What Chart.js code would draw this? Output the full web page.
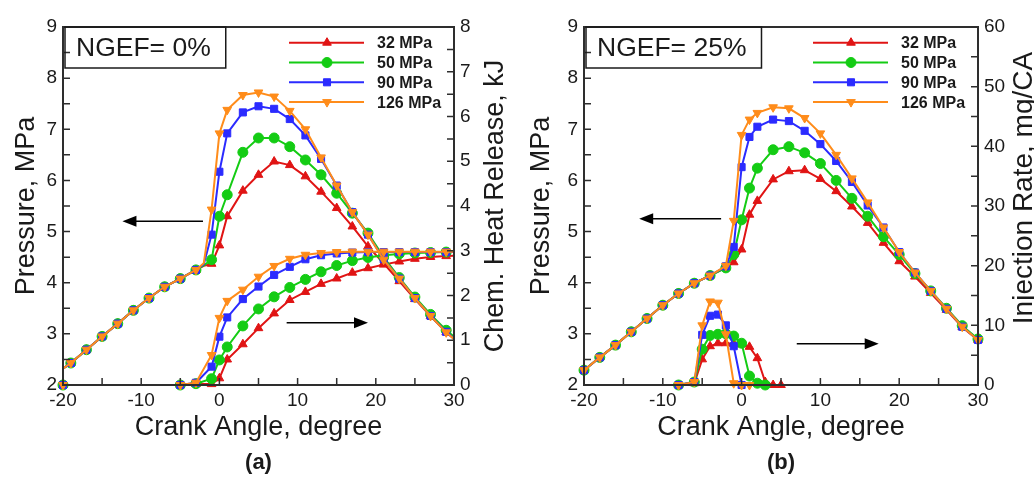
<!DOCTYPE html>
<html><head><meta charset="utf-8">
<script src="https://cdn.jsdelivr.net/npm/chart.js@4.4.1/dist/chart.umd.min.js"></script>
<style>
html,body{margin:0;padding:0;background:#fff;}
#wrap{position:relative;width:1034px;height:477px;overflow:hidden;background:#fff;}
canvas{position:absolute;top:0;}
#ca{left:0;} #cb{left:517px;}
</style></head><body>
<div id="wrap"><canvas id="ca" width="517" height="477" style="width:517px;height:477px"></canvas><canvas id="cb" width="517" height="477" style="width:517px;height:477px"></canvas></div>
<script>
// ---------------- DATA ----------------
const seriesLabels = ['32 MPa', '50 MPa', '90 MPa', '126 MPa'];

// Panel (a): NGEF = 0%  -- cylinder pressure (MPa)
const caPressA = [-20,-19,-17,-15,-13,-11,-9,-7,-5,-3,-2,-1,0,1,3,5,7,9,11,13,15,17,19,21,23,25,27,29,30];
const p32A  = [2.32,2.43,2.69,2.95,3.20,3.46,3.70,3.92,4.08,4.25,4.33,4.37,4.73,5.30,5.80,6.11,6.37,6.30,6.08,5.78,5.46,5.10,4.71,4.38,4.03,3.68,3.35,3.03,2.90];
const p50A  = [2.32,2.43,2.69,2.95,3.20,3.46,3.70,3.92,4.08,4.25,4.34,4.45,5.30,5.72,6.55,6.83,6.83,6.66,6.40,6.11,5.75,5.36,4.97,4.50,4.10,3.72,3.38,3.07,2.95];
const p90A  = [2.32,2.43,2.69,2.95,3.20,3.46,3.70,3.92,4.08,4.25,4.36,4.94,6.17,6.92,7.33,7.45,7.40,7.20,6.88,6.42,5.90,5.38,4.94,4.46,4.08,3.70,3.35,3.04,2.91];
const p126A = [2.32,2.43,2.69,2.95,3.20,3.46,3.70,3.92,4.08,4.25,4.38,5.43,6.92,7.38,7.67,7.72,7.64,7.36,7.00,6.45,5.90,5.38,4.94,4.45,4.08,3.70,3.35,3.03,2.90];

// Panel (a): chemical heat release (kJ)
const caHeatA = [-20,-5,-3,-1,0,1,3,5,7,9,11,13,15,17,19,21,23,25,27,29,30];
const hr32A  = [0,0,0.02,0.02,0.15,0.57,0.91,1.27,1.60,1.90,2.08,2.26,2.38,2.51,2.61,2.69,2.76,2.82,2.86,2.88,2.89];
const hr50A  = [0,0,0.03,0.14,0.56,0.85,1.32,1.70,1.97,2.18,2.36,2.53,2.67,2.78,2.85,2.90,2.93,2.95,2.96,2.97,2.97];
const hr90A  = [0,0,0.05,0.41,1.08,1.51,1.92,2.20,2.46,2.64,2.81,2.90,2.94,2.96,2.97,2.97,2.97,2.97,2.97,2.97,2.97];
const hr126A = [0,0,0.05,0.67,1.50,1.88,2.13,2.42,2.66,2.82,2.91,2.95,2.97,2.98,2.98,2.98,2.98,2.98,2.98,2.98,2.98];

// Panel (b): NGEF = 25% -- cylinder pressure (MPa)
const caPressB = [-20,-18,-16,-14,-12,-10,-8,-6,-4,-2,-1,0,1,2,4,6,8,10,12,14,16,18,20,22,24,26,28,30];
const p32B  = [2.29,2.54,2.78,3.04,3.30,3.56,3.79,3.99,4.14,4.30,4.40,4.65,5.33,5.60,6.02,6.18,6.20,6.03,5.79,5.49,5.17,4.78,4.42,4.12,3.80,3.47,3.13,2.88];
const p50B  = [2.29,2.54,2.78,3.04,3.30,3.56,3.79,3.99,4.14,4.29,4.55,5.23,5.85,6.24,6.60,6.66,6.54,6.33,6.00,5.65,5.30,4.90,4.55,4.18,3.84,3.50,3.16,2.90];
const p90B  = [2.29,2.54,2.78,3.04,3.30,3.56,3.79,3.99,4.14,4.32,4.70,6.26,6.85,7.05,7.19,7.16,6.97,6.71,6.38,5.97,5.51,5.08,4.60,4.20,3.84,3.49,3.14,2.88];
const p126B = [2.29,2.54,2.78,3.04,3.30,3.56,3.79,3.99,4.14,4.33,5.21,6.89,7.19,7.32,7.43,7.41,7.22,6.92,6.50,6.04,5.57,5.08,4.60,4.20,3.84,3.49,3.14,2.88];

// Panel (b): injection rate (mg/CA)
const caInjB = [-8,-6,-5,-4,-3,-2,-1,0,1,2,3,4,5];
const inj32B  = [0,0.3,4.3,6.5,7.0,7.0,6.9,6.8,6.4,4.5,0.5,0,0];
const inj50B  = [0,0.5,6.0,8.3,8.5,8.6,8.2,7.0,1.5,0.3,0,null,null];
const inj90B  = [0,0.5,8.4,11.6,11.8,10.0,6.5,0,null,null,null,null,null];
const inj126B = [0,0.5,10.0,14.0,13.8,8.5,0.3,0,0,null,null,null,null];

// Axis tick values
const xTickMarks = [-20,-15,-10,-5,0,5,10,15,20,25,30];
const pressTickMarks = [2,2.5,3,3.5,4,4.5,5,5.5,6,6.5,7,7.5,8,8.5,9];
const heatTickMarks = [0,0.5,1,1.5,2,2.5,3,3.5,4,4.5,5,5.5,6,6.5,7,7.5,8];
const injTickMarks = [0,5,10,15,20,25,30,35,40,45,50,55,60];

// ---------------- STYLE ----------------
const FONT = "'Liberation Sans', Arial, Helvetica, sans-serif";
const INK = '#1a1a1a';
const AXIS = '#2e2e2e';
const seriesStyle = [
  {color:'#e01414', pointStyle:'triangle', rotation:0,   radius:5,   order:3},
  {color:'#14cc14', pointStyle:'circle',   rotation:0,   radius:5,   order:2},
  {color:'#2b2bff', pointStyle:'rect',     rotation:0,   radius:5,   order:1},
  {color:'#ff8c1a', pointStyle:'triangle', rotation:180, radius:5,   order:0}
];

function pts(xs, ys) {
  return xs.map((x, i) => ({x: x, y: ys[i]})).filter(p => p.y !== null);
}
function makeDataset(label, xs, ys, s, axis, hideAt) {
  return {
    label: label, data: pts(xs, ys), yAxisID: axis,
    borderColor: s.color, backgroundColor: s.color, borderWidth: 2,
    pointStyle: s.pointStyle, pointRotation: s.rotation,
    pointRadius: ctx => (ctx.raw && hideAt.includes(ctx.raw.x)) ? 0 : s.radius,
    pointBackgroundColor: s.color, pointBorderColor: s.color, pointBorderWidth: 1,
    tension: 0, clip: false, order: s.order
  };
}

function drawMarker(ctx, s, x, y) {
  ctx.fillStyle = s.color; ctx.strokeStyle = s.color; ctx.lineWidth = 1;
  if (Chart.helpers && Chart.helpers.drawPoint) {
    Chart.helpers.drawPoint(ctx, {pointStyle: s.pointStyle, radius: s.radius, rotation: s.rotation, borderWidth: 1}, x, y);
  } else {
    ctx.beginPath(); ctx.arc(x, y, s.radius, 0, Math.PI * 2); ctx.fill();
  }
}

const panelDecor = {
  id: 'panelDecor',
  afterDatasetsDraw(chart, args, o) {
    const {ctx, chartArea: a, scales} = chart;
    ctx.save();
    ctx.strokeStyle = AXIS;
    ctx.lineWidth = 2;
    ctx.strokeRect(a.left, a.top, a.right - a.left, a.bottom - a.top);
    ctx.lineWidth = 1.5;
    ctx.beginPath();
    const L = 7;
    o.xMarks.forEach(v => { const p = scales.x.getPixelForValue(v); ctx.moveTo(p, a.bottom); ctx.lineTo(p, a.bottom - L); });
    o.yMarks.forEach(v => { const p = scales.y.getPixelForValue(v); ctx.moveTo(a.left, p); ctx.lineTo(a.left + L, p); });
    o.y2Marks.forEach(v => { const p = scales.y2.getPixelForValue(v); ctx.moveTo(a.right, p); ctx.lineTo(a.right - L, p); });
    ctx.stroke();
    ctx.restore();
  },
  afterDraw(chart, args, o) {
    const {ctx, chartArea: a, scales} = chart;
    ctx.save();
    // NGEF box
    ctx.font = '26.5px ' + FONT;
    const tw = ctx.measureText(o.boxText).width;
    ctx.strokeStyle = INK; ctx.lineWidth = 1.5;
    ctx.strokeRect(a.left + 2, a.top, tw + 26, 41);
    ctx.fillStyle = INK; ctx.textAlign = 'left'; ctx.textBaseline = 'middle';
    ctx.fillText(o.boxText, a.left + 13, a.top + 22);
    // legend
    for (let i = 0; i < 4; i++) {
      const s = seriesStyle[i];
      const y = a.top + 15.7 + i * 19.8;
      ctx.strokeStyle = s.color; ctx.lineWidth = 2;
      ctx.beginPath(); ctx.moveTo(a.right - 165, y); ctx.lineTo(a.right - 90, y); ctx.stroke();
      drawMarker(ctx, s, a.right - 127, y);
      ctx.fillStyle = INK; ctx.font = 'bold 16px ' + FONT;
      ctx.textAlign = 'left'; ctx.textBaseline = 'middle';
      ctx.fillText(chart.data.datasets[i].label, a.right - 77, y + 1);
    }
    // arrows
    ctx.strokeStyle = '#000'; ctx.fillStyle = '#000'; ctx.lineWidth = 1.5;
    o.arrows.forEach(ar => {
      const ys = scales[ar.axis].getPixelForValue(ar.y);
      const x1 = scales.x.getPixelForValue(ar.from), x2 = scales.x.getPixelForValue(ar.to);
      const dir = Math.sign(x2 - x1);
      ctx.beginPath(); ctx.moveTo(x1, ys); ctx.lineTo(x2 - dir * 10, ys); ctx.stroke();
      ctx.beginPath(); ctx.moveTo(x2, ys); ctx.lineTo(x2 - dir * 14, ys - 5.5); ctx.lineTo(x2 - dir * 14, ys + 5.5); ctx.closePath(); ctx.fill();
    });
    // right axis title
    ctx.fillStyle = INK; ctx.font = o.rightTitleSize + 'px ' + FONT;
    ctx.translate(a.right + o.rightTitleOffset, o.rightTitleY !== undefined ? o.rightTitleY : (a.top + a.bottom) / 2);
    ctx.rotate(-Math.PI / 2);
    ctx.textAlign = 'center'; ctx.textBaseline = 'middle';
    ctx.fillText(o.rightTitle, 0, 0);
    ctx.restore();
    // panel tag
    ctx.save();
    ctx.fillStyle = INK; ctx.font = 'bold 22px ' + FONT; ctx.textAlign = 'center'; ctx.textBaseline = 'middle';
    ctx.fillText(o.tag, (a.left + a.right) / 2, 463);
    ctx.restore();
  }
};

function makeChart(canvas, cfg) {
  const tickFont = {family: FONT, size: 19};
  const titleFont = {family: FONT, size: 27};
  return new Chart(canvas, {
    type: 'line',
    data: {datasets: cfg.datasets},
    options: {
      responsive: false, maintainAspectRatio: false, animation: false, devicePixelRatio: 1, events: [],
      layout: {padding: {top: 27, left: 0, right: 0, bottom: 0}},
      plugins: {legend: {display: false}, tooltip: {enabled: false}, panelDecor: cfg.decor},
      scales: {
        x: {type: 'linear', position: 'bottom', min: -20, max: 30,
          ticks: {stepSize: 10, font: tickFont, color: INK, padding: 4, maxRotation: 0, autoSkip: false},
          grid: {display: false, drawTicks: false}, border: {display: false},
          title: {display: true, text: 'Crank Angle, degree', font: titleFont, color: INK, padding: {top: 0, bottom: 33}},
          afterFit: s => { s.height = 92; }},
        y: {type: 'linear', position: 'left', min: 2, max: 9,
          ticks: {stepSize: 1, font: tickFont, color: INK, padding: 6},
          grid: {display: false, drawTicks: false}, border: {display: false},
          title: {display: true, text: 'Pressure, MPa', font: titleFont, color: INK, padding: {top: cfg.leftTitlePad, bottom: 0}},
          afterFit: s => { s.width = cfg.leftW; }},
        y2: {type: 'linear', position: 'right', min: 0, max: cfg.y2max,
          ticks: {stepSize: cfg.y2step, font: tickFont, color: INK, padding: 6},
          grid: {display: false, drawTicks: false}, border: {display: false},
          afterFit: s => { s.width = cfg.rightW; }}
      }
    },
    plugins: [panelDecor]
  });
}

const S = seriesStyle;
const dsA = [
  makeDataset(seriesLabels[0], caPressA, p32A,  S[0], 'y', [-20,-2,30]),
  makeDataset(seriesLabels[1], caPressA, p50A,  S[1], 'y', [-20,-2,30]),
  makeDataset(seriesLabels[2], caPressA, p90A,  S[2], 'y', [-20,-2,30]),
  makeDataset(seriesLabels[3], caPressA, p126A, S[3], 'y', [-20,-2,30]),
  makeDataset(seriesLabels[0], caHeatA, hr32A,  S[0], 'y2', [30]),
  makeDataset(seriesLabels[1], caHeatA, hr50A,  S[1], 'y2', [30]),
  makeDataset(seriesLabels[2], caHeatA, hr90A,  S[2], 'y2', [30]),
  makeDataset(seriesLabels[3], caHeatA, hr126A, S[3], 'y2', [30])
];
const dsB = [
  makeDataset(seriesLabels[0], caPressB, p32B,  S[0], 'y', []),
  makeDataset(seriesLabels[1], caPressB, p50B,  S[1], 'y', []),
  makeDataset(seriesLabels[2], caPressB, p90B,  S[2], 'y', []),
  makeDataset(seriesLabels[3], caPressB, p126B, S[3], 'y', []),
  makeDataset(seriesLabels[0], caInjB, inj32B,  S[0], 'y2', []),
  makeDataset(seriesLabels[1], caInjB, inj50B,  S[1], 'y2', []),
  makeDataset(seriesLabels[2], caInjB, inj90B,  S[2], 'y2', []),
  makeDataset(seriesLabels[3], caInjB, inj126B, S[3], 'y2', [])
];

makeChart(document.getElementById('ca'), {
  datasets: dsA, leftW: 63, rightW: 63, y2max: 8, y2step: 1, leftTitlePad: 10,
  decor: {
    boxText: 'NGEF= 0%', tag: '(a)',
    rightTitle: 'Chem. Heat Release, kJ', rightTitleOffset: 42, rightTitleSize: 27,
    xMarks: xTickMarks, yMarks: pressTickMarks, y2Marks: heatTickMarks,
    arrows: [{axis: 'y', y: 5.2, from: -2.1, to: -12.4}, {axis: 'y2', y: 1.39, from: 8.6, to: 19.0}]
  }
});
makeChart(document.getElementById('cb'), {
  datasets: dsB, leftW: 67, rightW: 56, y2max: 60, y2step: 10, leftTitlePad: 8,
  decor: {
    boxText: 'NGEF= 25%', tag: '(b)',
    rightTitle: 'Injection Rate, mg/CA', rightTitleOffset: 46, rightTitleSize: 28, rightTitleY: 188,
    xMarks: xTickMarks, yMarks: pressTickMarks, y2Marks: injTickMarks,
    arrows: [{axis: 'y', y: 5.25, from: -2.6, to: -13.0}, {axis: 'y2', y: 6.9, from: 7.0, to: 17.4}]
  }
});
</script></body></html>
